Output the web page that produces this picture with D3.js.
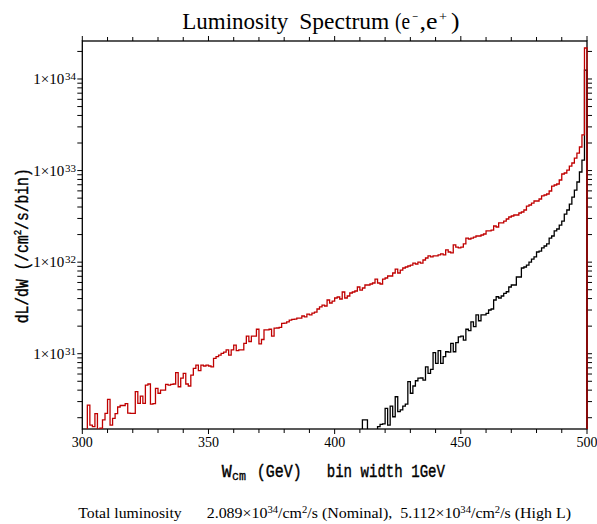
<!DOCTYPE html>
<html><head><meta charset="utf-8">
<script src="https://cdn.jsdelivr.net/npm/d3@7"></script>
<style>html,body{margin:0;padding:0;background:#fff}svg{display:block}</style>
</head><body>
<script>
// ---------- data ----------
const redStart = 300;   // first bin (GeV), bin width 1 GeV  (High L)
const redValues = [
 1.2e30,1.2e30,2.75e30,1.66e30,1.60e30,2.22e30,1.3e30,1.54e30,1.89e30,2.23e30,
 3.18e30,1.66e30,1.97e30,2.22e30,2.62e30,2.72e30,2.72e30,2.85e30,2.25e30,2.23e30,
 2.23e30,3.85e30,2.87e30,3.45e30,2.87e30,4.55e30,4.67e30,2.82e30,2.85e30,4.19e30,
 3.70e30,4.01e30,4.01e30,4.63e30,4.55e30,4.63e30,4.67e30,6.2e30,4.36e30,5.4e30,
 6.1e30,4.67e30,4.44e30,5.85e30,6.93e30,7.52e30,6.52e30,7.52e30,7.34e30,7.52e30,
 7.34e30,7.2e30,8.9e30,9.28e30,9.67e30,1.01e31,1.04e31,1.10e31,9.67e30,1.10e31,
 1.24e31,1.08e31,1.10e31,1.10e31,1.30e31,1.56e31,1.36e31,1.56e31,1.56e31,1.85e31,
 1.28e31,1.43e31,1.82e31,1.82e31,1.85e31,1.56e31,1.90e31,1.91e31,1.94e31,2.14e31,
 2.16e31,2.23e31,2.33e31,2.37e31,2.39e31,2.45e31,2.45e31,2.58e31,2.52e31,2.71e31,
 2.65e31,2.78e31,2.85e31,3.08e31,3.24e31,3.40e31,3.32e31,3.86e31,3.58e31,3.76e31,
 4.06e31,4.16e31,3.96e31,4.72e31,4.06e31,4.27e31,4.60e31,4.72e31,4.84e31,5.35e31,
 4.96e31,5.22e31,5.63e31,5.63e31,5.77e31,5.92e31,6.54e31,5.92e31,5.77e31,6.54e31,
 6.71e31,7.06e31,7.06e31,7.61e31,8.41e31,7.61e31,8.20e31,8.63e31,8.85e31,9.07e31,
 9.30e31,9.78e31,9.54e31,1.00e32,9.78e31,1.055e32,1.11e32,1.17e32,1.14e32,1.17e32,
 1.17e32,1.20e32,1.23e32,1.20e32,1.36e32,1.29e32,1.26e32,1.54e32,1.46e32,1.43e32,
 1.46e32,1.58e32,1.83e32,1.79e32,1.83e32,1.88e32,1.93e32,1.93e32,1.98e32,2.03e32,
 2.19e32,2.19e32,2.24e32,2.48e32,2.42e32,2.68e32,2.68e32,2.81e32,2.96e32,3.11e32,
 3.19e32,3.27e32,3.27e32,3.44e32,3.53e32,3.71e32,4.10e32,4.21e32,4.42e32,4.65e32,
 4.65e32,4.89e32,5.28e32,5.41e32,5.55e32,5.98e32,6.78e32,6.96e32,7.13e32,7.89e32,
 9.17e32,9.41e32,1.01e33,1.12e33,1.21e33,1.37e33,1.55e33,1.81e33,2.45e33,2.18e34
];
const blackStart = 410; // Nominal
const blackValues = [
 1.2e30,1.89e30,1.89e30,1.2e30,1.2e30,1.2e30,1.2e30,1.60e30,1.69e30,1.71e30,
 2.53e30,1.66e30,2.68e30,2.05e30,3.39e30,2.33e30,2.43e30,2.68e30,2.82e30,4.95e30,
 3.70e30,4.44e30,5.07e30,5.4e30,5.43e30,5.16e30,7.2e30,6.1e30,6.76e30,1.03e31,
 7.86e30,1.08e31,7.86e30,9.28e30,1.05e31,1.04e31,1.30e31,1.05e31,1.32e31,1.53e31,
 1.56e31,1.41e31,1.85e31,1.79e31,2.23e31,1.98e31,2.65e31,2.29e31,2.65e31,2.65e31,
 2.76e31,3.00e31,3.08e31,3.86e31,4.19e31,4.06e31,4.27e31,4.57e31,4.75e31,5.35e31,
 5.63e31,5.63e31,6.88e31,6.88e31,8.63e31,8.85e31,9.30e31,1.00e32,1.08e32,1.14e32,
 1.29e32,1.32e32,1.43e32,1.50e32,1.58e32,1.83e32,1.93e32,2.19e32,2.30e32,2.54e32,
 2.81e32,3.35e32,3.71e32,4.31e32,5.14e32,6.13e32,7.50e32,9.65e32,1.30e33,1.25e34
];
const xDomain = [300, 500];
const yDomain = [1.506e30, 2.6e34];
const xTickLabels = [300, 350, 400, 450, 500];
const yDecades = [1e31, 1e32, 1e33, 1e34];
const yDecadeExps = ["31", "32", "33", "34"];
const titleText = ["Luminosity", "Spectrum", "(e", "\u2212", ",e", "+", ")"];
const xTitleText = ["W", "cm", "(GeV)", "bin width 1GeV"];
const yTitleText = ["dL/dW (/cm", "2", "/s/bin)"];
const footLabel = "Total luminosity";
const footNominal = "2.089";
const footHighL = "5.112";

// ---------- layout ----------
const W = 597, H = 524;
const L = 82.3, R = 587, T = 41, B = 429;
const svg = d3.select("body").append("svg").attr("width", W).attr("height", H);
const x = d3.scaleLinear().domain(xDomain).range([L, R]);
const y = d3.scaleLog().domain(yDomain).range([B, T]);

const serif = "'Liberation Serif', 'Times New Roman', serif";
const mono = "'Liberation Mono', 'Courier New', monospace";

function txt(px, py, s, size, fam, opts = {}) {
  const t = svg.append("text").attr("x", px).attr("y", py)
    .attr("font-family", fam).attr("font-size", size).attr("fill", "#000")
    .attr("text-anchor", opts.anchor || "start").text(s);
  if (opts.len) t.attr("textLength", opts.len).attr("lengthAdjust", "spacingAndGlyphs");
  if (opts.heavy) t.attr("stroke", "#000").attr("stroke-width", opts.heavy);
  return t;
}

// frame
svg.append("rect").attr("x", L).attr("y", T).attr("width", R - L).attr("height", B - T)
  .attr("fill", "none").attr("stroke", "#000").attr("stroke-width", 1.3);

// x ticks (top & bottom)
const gt = svg.append("g").attr("stroke", "#000").attr("stroke-width", 1);
d3.range(300, 501, 10).forEach(v => {
  const major = v % 50 === 0;
  const len = major ? 5 : 4;
  gt.append("line").attr("x1", x(v)).attr("x2", x(v)).attr("y1", T).attr("y2", T - len);
  gt.append("line").attr("x1", x(v)).attr("x2", x(v)).attr("y1", B).attr("y2", B + len);
});
// y ticks (left & right)
[1e30, 1e31, 1e32, 1e33, 1e34].forEach(d => {
  d3.range(1, 10).forEach(m => {
    const v = m * d;
    if (v < yDomain[0] || v > yDomain[1]) return;
    const yy = y(v);
    gt.append("line").attr("x1", L).attr("x2", L - 5).attr("y1", yy).attr("y2", yy);
    gt.append("line").attr("x1", R).attr("x2", R + 5).attr("y1", yy).attr("y2", yy);
  });
});

// x tick labels
xTickLabels.forEach(v => txt(x(v), 446.5, String(v), 14, serif, {anchor: "middle"}));
// y tick labels
yDecades.forEach((d, i) => {
  const yy = y(d);
  txt(33.3, yy + 5.3, "1\u00d710", 14, serif, {len: 31});
  txt(65, yy + 1.2, yDecadeExps[i], 10, serif, {len: 11});
});

// clip
svg.append("clipPath").attr("id", "clip").append("rect")
  .attr("x", L - 1).attr("y", T).attr("width", R - L + 2.5).attr("height", B - T);

function histPoints(start, vals) {
  const pts = vals.map((v, i) => [start + i, v]);
  pts.push([start + vals.length, vals[vals.length - 1]]);
  pts.push([start + vals.length, yDomain[0] / 10]);
  return pts;
}
const line = d3.line().x(d => x(d[0])).y(d => y(d[1])).curve(d3.curveStepAfter);
const plot = svg.append("g").attr("clip-path", "url(#clip)");
plot.append("path").attr("d", line(histPoints(blackStart, blackValues)))
  .attr("fill", "none").attr("stroke", "#000").attr("stroke-width", 1.3);
plot.append("path").attr("d", line(histPoints(redStart, redValues)))
  .attr("fill", "none").attr("stroke", "#c00000").attr("stroke-width", 1.3);

// title
txt(182.3, 29, titleText[0], 23, serif, {len: 106});
txt(299.3, 29, titleText[1], 23, serif, {len: 90});
txt(395, 29, titleText[2], 23, serif, {len: 15});
txt(412, 20.5, titleText[3], 13, serif, {len: 6});
txt(419.5, 29, titleText[4], 23, serif, {len: 18});
txt(439, 20.5, titleText[5], 13, serif, {len: 8});
txt(451, 29, titleText[6], 23, serif, {len: 8.5});

// x axis title
txt(221.7, 476.5, xTitleText[0], 18, mono, {len: 10, heavy: 0.4});
txt(232, 480, xTitleText[1], 12, mono, {len: 14, heavy: 0.3});
txt(256.7, 476.5, xTitleText[2], 18, mono, {len: 45, heavy: 0.4});
txt(326.7, 476.5, xTitleText[3], 18, mono, {len: 118.3, heavy: 0.4});

// y axis title (rotated)
const yt = svg.append("text").attr("transform", "translate(27.5,323.3) rotate(-90)")
  .attr("font-family", mono).attr("font-size", 18)
  .attr("stroke", "#000").attr("stroke-width", 0.4)
  .attr("xml:space", "preserve")
  .attr("textLength", 155).attr("lengthAdjust", "spacingAndGlyphs");
yt.append("tspan").text(yTitleText[0]);
yt.append("tspan").attr("font-size", 11).attr("dy", -7).text(yTitleText[1]);
yt.append("tspan").attr("dy", 7).text(yTitleText[2]);

// footer
txt(78.3, 518, footLabel, 15, serif, {len: 103.4});
const ft = svg.append("text").attr("x", 206.7).attr("y", 518)
  .attr("font-family", serif).attr("font-size", 15).attr("xml:space", "preserve")
  .attr("textLength", 364.3).attr("lengthAdjust", "spacingAndGlyphs");
function sup(s) { ft.append("tspan").attr("font-size", 10).attr("dy", -5).text(s); }
function base(s) { ft.append("tspan").attr("font-size", 15).attr("dy", 5).text(s); }
ft.append("tspan").text(footNominal + "\u00d710");
sup("34"); base("/cm"); sup("2"); base("/s (Nominal),  " + footHighL + "\u00d710");
sup("34"); base("/cm"); sup("2"); base("/s (High L)");
</script>
</body></html>
